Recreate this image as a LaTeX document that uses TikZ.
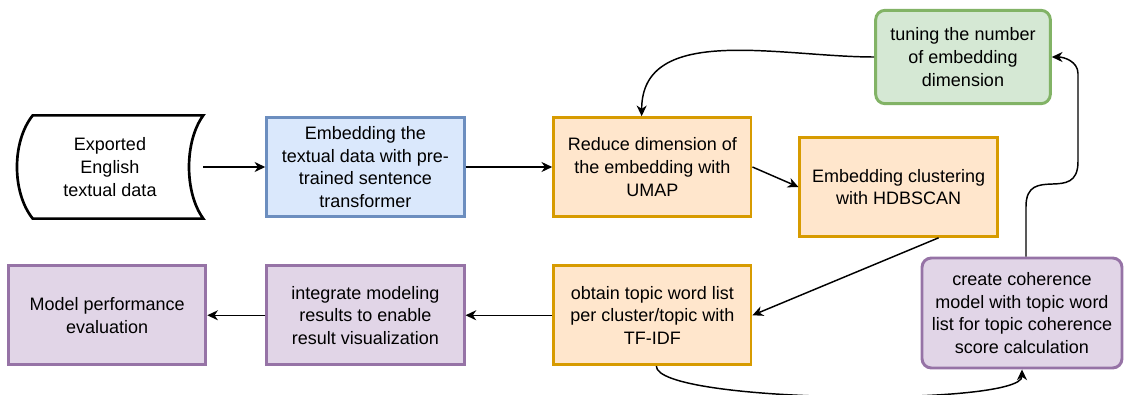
\documentclass[tikz,border=0pt]{standalone}
\usepackage{fontspec}
\setmainfont{Liberation Sans}
\usetikzlibrary{arrows.meta,positioning,calc}
\tikzset{>=Stealth}
\definecolor{bluefill}{HTML}{DAE8FC}
\definecolor{blueline}{HTML}{6C8EBF}
\definecolor{orangefill}{HTML}{FFE6CC}
\definecolor{orangeline}{HTML}{D79B00}
\definecolor{greenfill}{HTML}{D5E8D4}
\definecolor{greenline}{HTML}{82B366}
\definecolor{purplefill}{HTML}{E1D5E7}
\definecolor{purpleline}{HTML}{9673A6}

\begin{document}
\begin{tikzpicture}[
    x=0.75pt, y=0.75pt,
    flowbox/.style={rectangle, draw, line width=2.2pt, minimum width=148pt, minimum height=74pt, inner xsep=2pt, align=center, font=\fontsize{13.5}{17}\selectfont},
    bluebox/.style={flowbox, fill=bluefill, draw=blueline},
    orangebox/.style={flowbox, fill=orangefill, draw=orangeline},
    purplebox/.style={flowbox, fill=purplefill, draw=purpleline},
    greenbox/.style={flowbox, rounded corners=7pt, fill=greenfill, draw=greenline},
    datastore/.style={rectangle, minimum width=139.5pt, minimum height=77pt, align=center, font=\fontsize{13.5}{17}\selectfont},
    arrow/.style={-{Stealth[length=8pt,width=7.5pt,inset=2.5pt]}, line width=1.1pt}
]
    \useasboundingbox (0,0) rectangle (1132,394);

    \node[datastore] (exp) at (110,227) {Exported\\English\\textual data};
    \node[bluebox, right=46.5pt of exp] (emb) {Embedding the\\textual data with pre-\\trained sentence\\transformer};
    \node[orangebox, right=65pt of emb] (red) {Reduce dimension of\\the embedding with\\UMAP};
    \node[orangebox, right=34.5pt of red, yshift=-15pt] (clu) {Embedding clustering\\with HDBSCAN};
    \node[greenbox, minimum width=131pt, minimum height=70pt] (tun) at (963,337) {tuning the number\\of embedding\\dimension};
    \node[orangebox, below=35pt of red] (obt) {obtain topic word list\\per cluster/topic with\\TF-IDF};
    \node[purplebox, rounded corners=7pt, minimum width=150pt, minimum height=82.5pt] (coh) at (1022,81) {create coherence\\model with topic word\\list for topic coherence\\score calculation};
    \node[purplebox, left=65pt of obt] (int) {integrate modeling\\results to enable\\result visualization};
    \node[purplebox, left=43.5pt of int] (mod) {Model performance\\evaluation};

    % stored data outline
    \draw[line width=2pt] ([xshift=12pt]exp.north west) -- (exp.north east)
        .. controls +(-19,-26) and +(-19,26) .. (exp.south east)
        -- ([xshift=12pt]exp.south west)
        .. controls +(-21,26) and +(-21,-26) .. ([xshift=12pt]exp.north west) -- cycle;

    \draw[arrow] (exp) -- (emb);
    \draw[arrow] (emb) -- (red);
    \draw[arrow] (red.east) -- (clu.west);
    \draw[arrow] ([xshift=30pt]clu.south) -- (obt.east);
    \draw[arrow] (obt) -- (int);
    \draw[arrow] (int) -- (mod);
    \draw[arrow] ([xshift=3pt]obt.south) .. controls +(0,-28pt) and +(0,-28pt) .. (coh.south);
    \draw[arrow] ([xshift=3pt]coh.north) -- ++(0,50) to[out=90,in=-90,looseness=1.6] ++(52,45) -- ++(0,88) to[out=90,in=0] (tun.east);
    \draw[arrow] (tun.west) to[out=180,in=90] ([xshift=-8pt]red.north);
\end{tikzpicture}
\end{document}
